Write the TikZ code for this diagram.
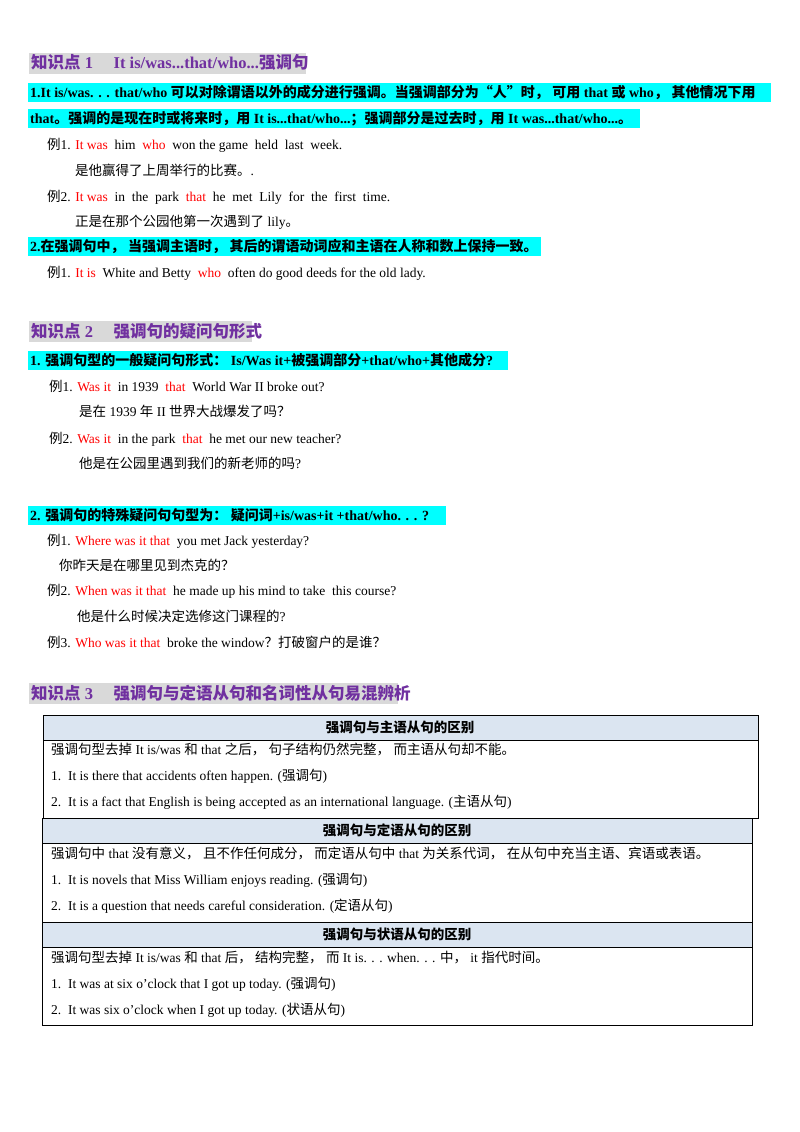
\documentclass[tikz,border=0pt]{standalone}
\usepackage{fontspec}
\setmainfont{Liberation Serif}
\newfontfamily\cjk{Noto Sans CJK SC}
\XeTeXinterchartokenstate=1
\newXeTeXintercharclass\cjkcls
\count255="4E00 \loop \XeTeXcharclass\count255=\cjkcls \advance\count255 1 \ifnum\count255<"A000 \repeat
\count255="3000 \loop \XeTeXcharclass\count255=\cjkcls \advance\count255 1 \ifnum\count255<"3040 \repeat
\count255="FF00 \loop \XeTeXcharclass\count255=\cjkcls \advance\count255 1 \ifnum\count255<"FFF0 \repeat
\XeTeXcharclass"201C=\cjkcls \XeTeXcharclass"201D=\cjkcls
\XeTeXinterchartoks 0 \cjkcls = {\begingroup\cjk}
\XeTeXinterchartoks 4095 \cjkcls = {\begingroup\cjk}
\XeTeXinterchartoks \cjkcls 0 = {\endgroup}
\XeTeXinterchartoks \cjkcls 4095 = {\endgroup}
\definecolor{hl}{HTML}{00FFFF}
\definecolor{purp}{HTML}{7030A0}
\definecolor{hgray}{HTML}{D9D9D9}
\definecolor{thead}{HTML}{DBE5F1}
\definecolor{rd}{HTML}{FF0000}
\newcommand{\R}[1]{\textcolor{rd}{#1}}
\begin{document}
\begin{tikzpicture}[x=1pt,y=-1pt,
  txt/.style={anchor=base west,inner sep=0pt,font=\fontsize{13.5}{15}\selectfont},
  btxt/.style={txt,font=\fontsize{14}{16}\selectfont\bfseries},
  head/.style={anchor=base west,inner sep=0pt,font=\fontsize{16.5}{18}\selectfont\bfseries,text=purp},
  thd/.style={anchor=base,inner sep=0pt,font=\fontsize{13.5}{15}\selectfont\bfseries},
  hlbox/.style={fill=hl,draw=none},
  hbox/.style={fill=hgray,draw=none},
  tbox/.style={draw=black,line width=0.8pt}]
\useasboundingbox (0,0) rectangle (800,1132);
% section 1
\fill[hbox] (29,53) rectangle (306,74);
\node[head] (h1) at (31,69) {知识点 1 \quad It is/was...that/who...强调句};
\fill[hlbox] (28,83) rectangle (771,102);
\fill[hlbox] (28,109) rectangle (640,128);
\node[btxt] (a1) at (30,97.5) {1.It is/was. . . that/who 可以对除谓语以外的成分进行强调。当强调部分为“人”时， 可用 that 或 who， 其他情况下用};
\node[btxt] (a2) at (30,123.5) {that。强调的是现在时或将来时，用 It is...that/who...；强调部分是过去时，用 It was...that/who...。};
\node[txt] (e1) at (47,149) {例1. \R{It was} \ him \ \R{who} \ won the game \ held \ last \ week.};
\node[txt] (e1c) at (75,175) {是他赢得了上周举行的比赛。.};
\node[txt] (e2) at (47,201) {例2. \R{It was} \ in \ the \ park \ \R{that} \ he \ met \ Lily \ for \ the \ first \ time.};
\node[txt] (e2c) at (75,226) {正是在那个公园他第一次遇到了 lily。};
\fill[hlbox] (28,237) rectangle (541,256);
\node[btxt] (a3) at (30,251.5) {2.在强调句中， 当强调主语时， 其后的谓语动词应和主语在人称和数上保持一致。};
\node[txt] (e3) at (47,277) {例1. \R{It is} \ White and Betty \ \R{who} \ often do good deeds for the old lady.};
% section 2
\fill[hbox] (29,321) rectangle (252,342);
\node[head] (h2) at (31,337) {知识点 2 \quad 强调句的疑问句形式};
\fill[hlbox] (28,351) rectangle (508,370);
\node[btxt] (b1) at (30,365.5) {1. 强调句型的一般疑问句形式： Is/Was it+被强调部分+that/who+其他成分?};
\node[txt] (f1) at (49,391) {例1. \R{Was it} \ in 1939 \ \R{that} \ World War II broke out?};
\node[txt] (f1c) at (79,416) {是在 1939 年 II 世界大战爆发了吗？};
\node[txt] (f2) at (49,443) {例2. \R{Was it} \ in the park \ \R{that} \ he met our new teacher?};
\node[txt] (f2c) at (79,468) {他是在公园里遇到我们的新老师的吗?};
\fill[hlbox] (28,506) rectangle (446,525);
\node[btxt] (b2) at (30,520.5) {2. 强调句的特殊疑问句句型为： 疑问词+is/was+it +that/who. . . ?};
\node[txt] (g1) at (47,545) {例1. \R{Where was it that} \ you met Jack yesterday?};
\node[txt] (g1c) at (59,570) {你昨天是在哪里见到杰克的？};
\node[txt] (g2) at (47,595) {例2. \R{When was it that} \ he made up his mind to take \ this course?};
\node[txt] (g2c) at (77,621) {他是什么时候决定选修这门课程的?};
\node[txt] (g3) at (47,647) {例3. \R{Who was it that} \ broke the window？打破窗户的是谁？};
% section 3
\fill[hbox] (29,683) rectangle (398,704);
\node[head] (h3) at (31,699) {知识点 3 \quad 强调句与定语从句和名词性从句易混辨析};
% table
\fill[thead] (43,715) rectangle (758,740);
\draw[tbox] (43,715) rectangle (758,818);
\draw[tbox] (43,740) -- (758,740);
\node[thd] (t1) at (400,732) {强调句与主语从句的区别};
\node[txt] (t1a) at (51,754) {强调句型去掉 It is/was 和 that 之后， 句子结构仍然完整， 而主语从句却不能。};
\node[txt] (t1b) at (51,780) {1.\ \ It is there that accidents often happen. (强调句)};
\node[txt] (t1c) at (51,806) {2.\ \ It is a fact that English is being accepted as an international language. (主语从句)};
\fill[thead] (42,818) rectangle (752,843);
\draw[tbox] (42,818) rectangle (752,922);
\draw[tbox] (42,843) -- (752,843);
\node[thd] (t2) at (397,835) {强调句与定语从句的区别};
\node[txt] (t2a) at (51,858) {强调句中 that 没有意义， 且不作任何成分， 而定语从句中 that 为关系代词， 在从句中充当主语、宾语或表语。};
\node[txt] (t2b) at (51,884) {1.\ \ It is novels that Miss William enjoys reading. (强调句)};
\node[txt] (t2c) at (51,910) {2.\ \ It is a question that needs careful consideration. (定语从句)};
\fill[thead] (42,922) rectangle (752,947);
\draw[tbox] (42,922) rectangle (752,1025);
\draw[tbox] (42,947) -- (752,947);
\node[thd] (t3) at (397,939) {强调句与状语从句的区别};
\node[txt] (t3a) at (51,962) {强调句型去掉 It is/was 和 that 后， 结构完整， 而 It is. . . when. . . 中， it 指代时间。};
\node[txt] (t3b) at (51,988) {1.\ \ It was at six o’clock that I got up today. (强调句)};
\node[txt] (t3c) at (51,1014) {2.\ \ It was six o’clock when I got up today. (状语从句)};
\end{tikzpicture}
\end{document}
